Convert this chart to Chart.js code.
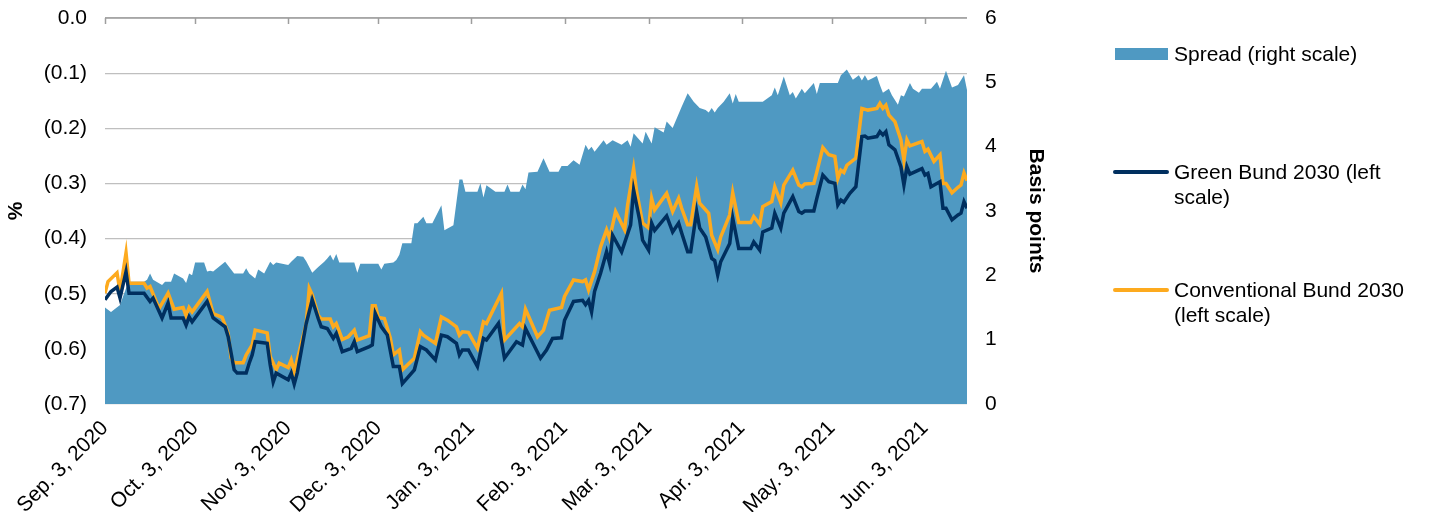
<!DOCTYPE html>
<html>
<head>
<meta charset="utf-8">
<script src="https://cdn.jsdelivr.net/npm/chart.js@4.4.1/dist/chart.umd.min.js"></script>
<style>
  html, body { margin: 0; padding: 0; background: #fff; }
  #wrap { position: relative; width: 1429px; height: 512px; }
  #legend { position: absolute; left: 1113px; top: 0; font-family: 'Liberation Sans', Arial, sans-serif; font-size: 21px; color: #000; }
  .item { position: absolute; left: 0; width: 320px; }
  .sw { position: absolute; left: 0; }
  .txt { position: absolute; left: 61px; line-height: 25px; white-space: nowrap; }
</style>
</head>
<body>
<div id="wrap">
  <canvas id="grafico" width="1429" height="512"></canvas>
  <div id="legend"></div>
</div>
<script>
// fechas de los ticks del eje x
const tickDates = ['2020-09-03','2020-10-03','2020-11-03','2020-12-03','2021-01-03','2021-02-03','2021-03-03','2021-04-03','2021-05-03','2021-06-03'];
const tickLabels = ['Sep. 3, 2020','Oct. 3, 2020','Nov. 3, 2020','Dec. 3, 2020','Jan. 3, 2021','Feb. 3, 2021','Mar. 3, 2021','Apr. 3, 2021','May. 3, 2021','Jun. 3, 2021'];
const lastDay = 287; // Jun. 17, 2021, days after Sep. 3, 2020
const leftTicks = [0, -0.1, -0.2, -0.3, -0.4, -0.5, -0.6, -0.7];
const rightTicks = [0, 1, 2, 3, 4, 5, 6];

// [days after Sep. 3 2020, value]
const spreadBp = [[0,1.5],[2,1.43],[5,1.54],[7,1.8],[8,1.9],[13,1.9],[14,1.93],[15,2.03],[16,1.93],[19,1.85],[20,1.9],[22,1.9],[23,2.03],[26,1.95],[27,1.88],[28,2.03],[29,2.0],[30,2.2],[33,2.2],[34,2.06],[35,2.07],[36,2.06],[40,2.21],[43,2.03],[46,2.03],[47,2.11],[48,2.03],[50,1.95],[51,2.09],[53,2.03],[55,2.21],[56,2.16],[57,2.2],[59,2.18],[61,2.16],[62,2.21],[64,2.3],[66,2.29],[67,2.22],[69,2.04],[71,2.13],[73,2.21],[74,2.26],[75,2.32],[76,2.23],[77,2.33],[78,2.2],[83,2.2],[84,2.04],[85,2.18],[91,2.18],[92,2.09],[93,2.18],[96,2.2],[97,2.24],[98,2.32],[99,2.5],[102,2.5],[103,2.81],[104,2.81],[106,2.91],[107,2.81],[109,2.81],[112,3.09],[113,2.7],[116,2.78],[118,3.49],[119,3.49],[120,3.3],[124,3.3],[125,3.43],[126,3.21],[127,3.4],[130,3.3],[133,3.3],[134,3.41],[135,3.3],[138,3.3],[139,3.41],[140,3.34],[141,3.6],[144,3.61],[146,3.82],[148,3.61],[151,3.61],[152,3.7],[154,3.7],[156,3.79],[158,3.72],[160,4.03],[161,3.95],[162,4.0],[163,3.92],[166,4.1],[167,4.03],[169,4.1],[172,4.03],[174,4.1],[175,4.0],[176,4.21],[179,4.05],[180,4.23],[182,4.05],[183,4.3],[186,4.22],[187,4.39],[189,4.29],[192,4.62],[194,4.83],[196,4.7],[198,4.6],[200,4.57],[201,4.53],[202,4.6],[203,4.53],[204,4.6],[206,4.7],[208,4.83],[209,4.67],[210,4.82],[211,4.7],[219,4.7],[222,4.8],[223,4.92],[224,4.8],[226,5.09],[228,4.8],[229,4.85],[230,4.75],[232,4.9],[233,4.83],[236,4.99],[237,4.82],[238,4.99],[244,4.99],[245,5.11],[247,5.2],[249,5.04],[251,5.11],[252,5.03],[253,5.11],[254,5.03],[257,5.1],[258,4.96],[259,4.84],[261,4.9],[262,4.8],[264,4.65],[265,4.8],[266,4.78],[268,4.99],[269,4.9],[271,4.84],[272,4.9],[275,4.9],[277,5.01],[278,4.9],[280,5.18],[282,4.92],[284,4.96],[286,5.11],[287,4.88]];

const greenBund = [[0,-0.511],[2,-0.496],[4,-0.488],[5,-0.508],[7,-0.46],[8,-0.499],[13,-0.499],[15,-0.514],[16,-0.508],[19,-0.544],[21,-0.517],[22,-0.544],[26,-0.544],[27,-0.557],[28,-0.542],[29,-0.551],[34,-0.514],[36,-0.544],[40,-0.56],[41,-0.578],[43,-0.638],[44,-0.644],[47,-0.644],[48,-0.626],[49,-0.611],[50,-0.587],[54,-0.59],[55,-0.629],[56,-0.66],[57,-0.644],[61,-0.656],[62,-0.644],[63,-0.664],[64,-0.644],[67,-0.554],[69,-0.511],[71,-0.545],[72,-0.56],[74,-0.563],[76,-0.581],[77,-0.572],[79,-0.605],[82,-0.599],[83,-0.587],[84,-0.605],[88,-0.596],[89,-0.593],[90,-0.536],[91,-0.548],[92,-0.56],[94,-0.575],[96,-0.632],[98,-0.632],[99,-0.663],[103,-0.638],[105,-0.596],[107,-0.602],[110,-0.62],[112,-0.575],[114,-0.578],[117,-0.59],[118,-0.611],[119,-0.602],[121,-0.602],[124,-0.632],[126,-0.581],[127,-0.584],[131,-0.554],[133,-0.617],[137,-0.587],[139,-0.593],[140,-0.563],[145,-0.617],[147,-0.602],[149,-0.581],[152,-0.58],[153,-0.548],[156,-0.514],[159,-0.512],[160,-0.52],[161,-0.512],[162,-0.533],[163,-0.496],[165,-0.463],[167,-0.424],[168,-0.445],[169,-0.394],[172,-0.424],[175,-0.375],[176,-0.312],[178,-0.366],[179,-0.403],[181,-0.421],[182,-0.372],[183,-0.385],[187,-0.359],[189,-0.388],[191,-0.372],[192,-0.39],[194,-0.424],[195,-0.424],[197,-0.351],[198,-0.381],[200,-0.397],[202,-0.436],[203,-0.44],[204,-0.466],[205,-0.442],[208,-0.409],[209,-0.363],[211,-0.418],[215,-0.418],[216,-0.406],[218,-0.421],[219,-0.388],[222,-0.381],[223,-0.354],[225,-0.381],[226,-0.354],[229,-0.324],[231,-0.351],[232,-0.354],[233,-0.35],[236,-0.35],[237,-0.327],[239,-0.285],[241,-0.297],[243,-0.3],[244,-0.339],[245,-0.33],[246,-0.334],[248,-0.318],[250,-0.306],[252,-0.215],[253,-0.214],[254,-0.218],[257,-0.215],[258,-0.206],[259,-0.212],[260,-0.206],[261,-0.23],[263,-0.239],[265,-0.27],[266,-0.303],[267,-0.27],[268,-0.283],[272,-0.273],[273,-0.285],[274,-0.282],[275,-0.306],[278,-0.297],[279,-0.345],[280,-0.345],[282,-0.366],[284,-0.357],[285,-0.354],[286,-0.333],[287,-0.345]];

const convBund = [[0,-0.499],[1,-0.478],[4,-0.462],[5,-0.496],[7,-0.426],[8,-0.481],[13,-0.481],[14,-0.49],[15,-0.487],[18,-0.527],[21,-0.499],[23,-0.528],[26,-0.525],[27,-0.54],[28,-0.525],[29,-0.533],[34,-0.496],[36,-0.536],[39,-0.543],[41,-0.572],[42,-0.617],[43,-0.625],[46,-0.625],[47,-0.611],[49,-0.593],[50,-0.566],[54,-0.571],[55,-0.614],[57,-0.638],[58,-0.626],[61,-0.634],[62,-0.62],[63,-0.641],[64,-0.62],[67,-0.554],[68,-0.49],[69,-0.502],[71,-0.539],[72,-0.546],[75,-0.546],[76,-0.56],[77,-0.554],[79,-0.583],[81,-0.578],[83,-0.566],[84,-0.584],[88,-0.576],[89,-0.522],[90,-0.522],[91,-0.543],[93,-0.545],[95,-0.58],[96,-0.611],[98,-0.602],[99,-0.638],[103,-0.617],[105,-0.569],[106,-0.575],[110,-0.59],[112,-0.542],[114,-0.548],[117,-0.56],[118,-0.575],[119,-0.569],[121,-0.57],[124,-0.599],[126,-0.551],[127,-0.554],[132,-0.499],[133,-0.584],[138,-0.554],[139,-0.56],[140,-0.528],[144,-0.578],[146,-0.566],[148,-0.53],[152,-0.525],[153,-0.505],[156,-0.475],[159,-0.478],[160,-0.475],[161,-0.493],[163,-0.46],[165,-0.415],[167,-0.384],[168,-0.4],[170,-0.351],[173,-0.384],[174,-0.339],[176,-0.273],[177,-0.315],[179,-0.372],[181,-0.381],[182,-0.327],[183,-0.348],[187,-0.318],[189,-0.351],[191,-0.327],[192,-0.345],[194,-0.375],[195,-0.375],[197,-0.305],[198,-0.336],[201,-0.354],[202,-0.394],[204,-0.42],[205,-0.397],[208,-0.357],[209,-0.317],[211,-0.371],[215,-0.371],[216,-0.36],[218,-0.374],[219,-0.342],[222,-0.333],[223,-0.306],[225,-0.335],[226,-0.303],[229,-0.276],[231,-0.303],[232,-0.306],[233,-0.301],[236,-0.3],[237,-0.279],[239,-0.235],[241,-0.248],[243,-0.251],[244,-0.291],[245,-0.276],[246,-0.28],[247,-0.267],[250,-0.254],[252,-0.164],[254,-0.167],[257,-0.164],[258,-0.155],[259,-0.164],[260,-0.158],[261,-0.176],[263,-0.188],[265,-0.221],[266,-0.258],[267,-0.221],[268,-0.232],[272,-0.224],[273,-0.242],[274,-0.238],[276,-0.26],[278,-0.248],[279,-0.3],[280,-0.3],[282,-0.317],[284,-0.307],[285,-0.303],[286,-0.281],[287,-0.295]];

const colSpread = '#4F99C2';
const colGreen = '#002F5F';
const colConv = '#FDAA1E';
const fuente = "'Liberation Sans', Arial, sans-serif";

const start = Date.UTC(2020, 8, 3);
const tickDays = tickDates.map(function(d){ return Math.round((Date.parse(d + 'T00:00:00Z') - start) / 86400000); });
function aPuntos(lista){ return lista.map(function(p){ return {x: p[0], y: p[1]}; }); }
function formatoPct(v){
  if (Math.abs(v) < 1e-9) return '0.0';
  return '(' + Math.abs(v).toFixed(1) + ')';
}

// linea superior del eje x con marcas hacia abajo
const ejeSuperior = {
  id: 'ejeSuperior',
  afterDatasetsDraw(chart){
    const ctx = chart.ctx, a = chart.chartArea, sx = chart.scales.x;
    ctx.save();
    ctx.strokeStyle = '#9E9E9E';
    ctx.lineWidth = 1.5;
    ctx.beginPath();
    ctx.moveTo(a.left, a.top);
    ctx.lineTo(a.right, a.top);
    tickDays.forEach(function(d){
      const px = Math.round(sx.getPixelForValue(d)) + 0.5;
      ctx.moveTo(px, a.top);
      ctx.lineTo(px, a.top + 6);
    });
    ctx.stroke();
    ctx.restore();
  }
};

Chart.defaults.font.family = fuente;
Chart.defaults.font.size = 21;
Chart.defaults.color = '#000';

function sinRelleno(s){ s.paddingTop = 0; s.paddingBottom = 0; }

const ctx = document.getElementById('grafico').getContext('2d');
const grafico = new Chart(ctx, {
  type: 'line',
  data: {
    datasets: [
      { label: 'Conventional Bund 2030 (left scale)', data: aPuntos(convBund), yAxisID: 'y', borderColor: colConv, borderWidth: 3.5, pointRadius: 0, fill: false, order: 2 },
      { label: 'Green Bund 2030 (left scale)', data: aPuntos(greenBund), yAxisID: 'y', borderColor: colGreen, borderWidth: 3.5, pointRadius: 0, fill: false, order: 1 },
      { label: 'Spread (right scale)', data: aPuntos(spreadBp), yAxisID: 'y1', borderWidth: 0, borderColor: colSpread, backgroundColor: colSpread, pointRadius: 0, fill: 'origin', order: 3 }
    ]
  },
  options: {
    responsive: false,
    animation: false,
    layout: { padding: { left: 0, right: 377, top: 18, bottom: 0 } },
    plugins: { legend: { display: false }, tooltip: { enabled: false } },
    scales: {
      x: {
        type: 'linear', min: 0, max: lastDay,
        afterBuildTicks: function(s){ s.ticks = tickDays.map(function(v){ return {value: v}; }); },
        ticks: {
          autoSkip: false, minRotation: 45, maxRotation: 45, padding: 4,
          callback: function(v){ const i = tickDays.indexOf(v); return i >= 0 ? tickLabels[i] : ''; }
        },
        grid: { display: false },
        border: { display: false },
        afterFit: function(s){ s.height = 108; s.paddingLeft = 0; s.paddingRight = 0; }
      },
      y: {
        position: 'left', min: -0.7, max: 0,
        afterBuildTicks: function(s){ s.ticks = leftTicks.map(function(v){ return {value: v}; }); },
        ticks: { padding: 18, callback: formatoPct },
        grid: { color: '#BFBFBF', lineWidth: 1.2, drawTicks: false },
        border: { display: false },
        title: { display: true, text: '%', font: { weight: 'bold', size: 21 }, padding: { top: 4, bottom: 4 } },
        afterFit: function(s){ s.width = 105; sinRelleno(s); }
      },
      y1: {
        position: 'right', min: 0, max: 6,
        afterBuildTicks: function(s){ s.ticks = rightTicks.map(function(v){ return {value: v}; }); },
        ticks: { padding: 18 },
        grid: { display: false, drawTicks: false },
        border: { display: false },
        title: { display: true, text: 'Basis points', font: { weight: 'bold', size: 21 }, padding: { top: 4, bottom: 4 } },
        afterFit: function(s){ s.width = 85; sinRelleno(s); }
      }
    }
  },
  plugins: [ejeSuperior]
});

// leyenda a la derecha
const leyenda = [
  { lineas: ['Spread (right scale)'], tipo: 'area', color: colSpread, y: 54 },
  { lineas: ['Green Bund 2030 (left', 'scale)'], tipo: 'linea', color: colGreen, y: 172 },
  { lineas: ['Conventional Bund 2030', '(left scale)'], tipo: 'linea', color: colConv, y: 290 }
];
const cont = document.getElementById('legend');
leyenda.forEach(function(it){
  const d = document.createElement('div');
  d.className = 'item';
  d.style.top = it.y + 'px';
  const sw = document.createElement('div');
  sw.className = 'sw';
  if (it.tipo === 'area') {
    sw.style.cssText = 'left:2px;top:-6px;width:53px;height:12px;background:' + it.color;
  } else {
    sw.style.cssText = 'left:0;top:-2px;width:56px;height:4px;border-radius:2px;background:' + it.color;
  }
  d.appendChild(sw);
  const t = document.createElement('div');
  t.className = 'txt';
  t.style.top = '-13.5px';
  t.innerHTML = it.lineas.join('<br>');
  d.appendChild(t);
  cont.appendChild(d);
});
</script>
</body>
</html>
